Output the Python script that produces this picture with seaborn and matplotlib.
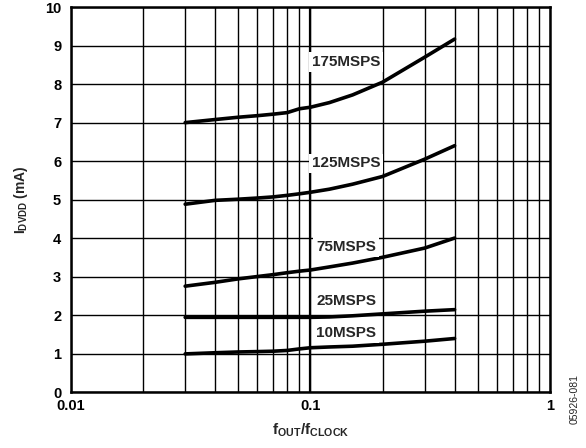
import pandas as pd
import numpy as np
import matplotlib
matplotlib.use("Agg")
import matplotlib.pyplot as plt
import seaborn as sns

# values
f_ratio = [0.03, 0.04, 0.05, 0.06, 0.07, 0.08, 0.09, 0.1, 0.12, 0.15, 0.2, 0.3, 0.4]
i_175 = [7.0, 7.08, 7.14, 7.18, 7.22, 7.26, 7.36, 7.40, 7.52, 7.72, 8.05, 8.70, 9.17]
i_125 = [4.88, 4.98, 5.01, 5.04, 5.07, 5.11, 5.15, 5.19, 5.27, 5.40, 5.60, 6.05, 6.40]
i_75 = [2.75, 2.85, 2.94, 3.00, 3.05, 3.10, 3.14, 3.17, 3.25, 3.35, 3.50, 3.74, 4.00]
i_25 = [1.94, 1.94, 1.94, 1.94, 1.94, 1.94, 1.94, 1.94, 1.95, 1.98, 2.03, 2.10, 2.14]
i_10 = [0.99, 1.02, 1.04, 1.05, 1.06, 1.08, 1.12, 1.15, 1.17, 1.19, 1.24, 1.32, 1.39]

series_names = ["175MSPS", "125MSPS", "75MSPS", "25MSPS", "10MSPS"]
label_x = 0.141
label_y = [8.57, 5.94, 3.77, 2.36, 1.53]

sns.set_theme(style="white")
plt.rcParams["font.family"] = ["Liberation Sans", "DejaVu Sans"]
plt.rcParams["font.weight"] = "bold"
plt.rcParams["mathtext.fontset"] = "custom"
plt.rcParams["mathtext.rm"] = "Liberation Sans:bold"
plt.rcParams["mathtext.bf"] = "Liberation Sans:bold"
plt.rcParams["mathtext.it"] = "Liberation Sans:bold"

df = pd.DataFrame({
    "f": f_ratio * 5,
    "I": i_175 + i_125 + i_75 + i_25 + i_10,
    "rate": np.repeat(series_names, len(f_ratio)),
})

fig = plt.figure(figsize=(5.86, 4.48), dpi=100)
ax = fig.add_axes([0.121, 0.125, 0.8174, 0.859])

ax.set_xscale("log")
ax.set_xlim(0.01, 1)
ax.set_ylim(0, 10)
ax.set_yticks(range(0, 11))
ax.set_xticks([0.01, 0.1, 1])
ax.set_xticklabels(["0.01", "0.1", "1"])

ax.grid(which="both", color="black", linewidth=1.0)
ax.axvline(0.1, color="black", linewidth=1.6, zorder=1)
ax.set_axisbelow(True)

sns.lineplot(data=df, x="f", y="I", hue="rate", palette=["black"] * 5,
             linewidth=2.6, legend=False, ax=ax, zorder=3)

for name, y in zip(series_names, label_y):
    ax.text(label_x, y, name, ha="center", va="center", fontsize=11,
            fontweight="bold", zorder=4,
            bbox=dict(facecolor="white", edgecolor="none", pad=2))

for s in ax.spines.values():
    s.set_color("black")
    s.set_linewidth(1.8)

ax.tick_params(axis="both", which="both", length=0, labelsize=10.5, colors="black")
ax.tick_params(axis="y", pad=7)
ax.tick_params(axis="x", pad=5)
for t in ax.get_xticklabels() + ax.get_yticklabels():
    t.set_fontweight("bold")

ax.set_xlabel(r"$\mathrm{f_{OUT}/f_{CLOCK}}$", fontsize=11, labelpad=6)
ax.set_ylabel(r"$\mathrm{I_{DVDD}}$ (mA)", fontsize=10, fontweight="bold", labelpad=11)

fig.text(0.98, 0.11, "05926-081", rotation=90, fontsize=7.5, fontweight="normal",
         ha="center", va="center")

fig.savefig("out.png", dpi=100)
